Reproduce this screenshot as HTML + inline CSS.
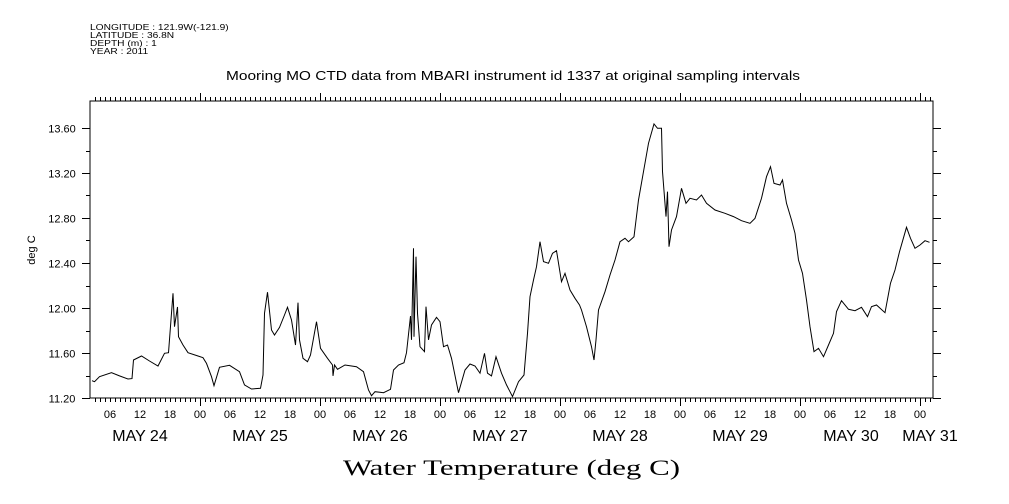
<!DOCTYPE html>
<html><head><meta charset="utf-8"><style>
html,body{margin:0;padding:0;background:#fff;}
svg{display:block;font-family:"Liberation Sans",sans-serif;}
</style></head><body>
<svg id="chart" width="1009" height="504" viewBox="0 0 1009 504" xmlns="http://www.w3.org/2000/svg">
<g font-size="8.5" fill="#000" transform="translate(90 0) scale(1.2 1) translate(-90 0)">
<text x="90" y="30">LONGITUDE : 121.9W(-121.9)</text>
<text x="90" y="38">LATITUDE : 36.8N</text>
<text x="90" y="46">DEPTH (m) : 1</text>
<text x="90" y="54">YEAR : 2011</text>
</g>
<text x="226" y="80" font-size="12.5" textLength="574" lengthAdjust="spacingAndGlyphs">Mooring MO CTD data from MBARI instrument id 1337 at original sampling intervals</text>
<text x="35" y="250" font-size="11" text-anchor="middle" transform="rotate(-90 35 250)">deg C</text>
<text x="343" y="475" font-size="22" textLength="337" lengthAdjust="spacingAndGlyphs" font-family="'Liberation Serif',serif">Water Temperature (deg C)</text>
<rect x="90" y="101" width="843" height="297" fill="none" stroke="#000" stroke-width="1"/>
<g id="axes"></g>
<path id="series" fill="none" stroke="#000" stroke-width="1"/>
</svg>
<script>
const hours = [2.4,2.9,3.9,6.3,7.9,9.6,10.4,10.7,12.3,13.9,15.6,16.9,17.7,18.6,18.9,19.5,19.7,20.6,21.6,23.6,24.6,25.3,26.3,26.8,27.9,29.9,31.9,32.9,34.3,36.1,36.6,36.9,37.5,38.3,38.9,39.9,40.9,41.5,42.3,43.1,43.6,43.9,44.6,45.5,46.1,47.3,48.1,49.5,50.5,50.6,50.9,51.5,53.0,55.3,56.7,57.7,58.3,59.0,60.7,62.1,62.7,63.7,64.8,65.3,66.1,66.3,66.7,66.8,67.2,67.5,68.0,68.9,69.2,69.7,70.3,71.3,72.0,72.7,73.5,74.3,75.7,77.0,78.0,79.0,80.0,80.9,81.5,82.3,83.2,84.3,85.3,86.5,87.7,88.8,89.5,90.0,90.7,91.3,92.0,92.7,93.7,94.5,95.3,96.3,97.0,98.0,99.0,99.9,100.3,101.3,102.3,102.8,103.2,103.7,105.0,106.0,107.0,108.0,109.0,109.7,110.8,111.7,112.7,113.7,114.8,115.5,116.3,116.5,117.2,117.5,117.8,118.3,119.3,120.3,121.2,122.0,123.3,124.3,125.3,127.0,129.0,130.7,132.3,134.0,135.0,136.3,137.3,138.1,138.8,140.0,140.5,141.3,142.3,143.0,143.7,144.5,145.3,146.0,146.8,147.7,148.7,149.7,150.7,151.3,152.3,153.7,155.0,156.3,157.5,158.3,159.3,161.0,162.1,163.0,163.9,165.3,166.1,167.0,168.0,169.0,169.9];
const temps = [11.354,11.345,11.389,11.425,11.396,11.369,11.372,11.538,11.573,11.529,11.484,11.597,11.603,12.131,11.834,12.009,11.745,11.671,11.603,11.573,11.558,11.508,11.389,11.309,11.473,11.491,11.434,11.316,11.28,11.286,11.404,11.953,12.14,11.804,11.76,11.828,11.938,12.006,11.893,11.671,12.047,11.716,11.553,11.523,11.582,11.878,11.642,11.553,11.493,11.396,11.493,11.455,11.493,11.478,11.434,11.271,11.22,11.256,11.247,11.277,11.449,11.493,11.514,11.603,11.929,11.716,12.531,11.745,12.456,11.953,11.656,11.612,12.012,11.716,11.849,11.917,11.878,11.656,11.671,11.553,11.247,11.449,11.502,11.484,11.42,11.597,11.42,11.396,11.567,11.42,11.316,11.212,11.345,11.404,11.775,12.1,12.249,12.367,12.589,12.412,12.397,12.486,12.509,12.234,12.308,12.16,12.086,12.027,11.982,11.834,11.656,11.538,11.716,11.982,12.145,12.293,12.427,12.589,12.62,12.589,12.634,12.96,13.212,13.464,13.636,13.597,13.597,13.212,12.812,13.034,12.545,12.693,12.812,13.064,12.931,12.975,12.96,13.004,12.931,12.871,12.842,12.812,12.776,12.753,12.797,12.975,13.167,13.256,13.108,13.093,13.138,12.931,12.782,12.664,12.427,12.308,12.071,11.834,11.612,11.642,11.567,11.671,11.775,11.967,12.065,11.988,11.976,12.006,11.923,12.012,12.027,11.958,12.22,12.338,12.5,12.717,12.62,12.531,12.56,12.598,12.584];
const yTicks = ["11.20","11.60","12.00","12.40","12.80","13.20","13.60"];
const hourLabels = ["06","12","18","00"];
const dayLabels = ["MAY 24","MAY 25","MAY 26","MAY 27","MAY 28","MAY 29","MAY 30","MAY 31"];

const X0=90,X1=933,Y0=398,Y1=101;
function xs(h){return 80+h*5;}
function ys(v){return 398-(v-11.2)*112.5;}

const NS="http://www.w3.org/2000/svg";
const axes=document.getElementById('axes');
function line(x1,y1,x2,y2,name){
  const l=document.createElementNS(NS,'line');
  l.setAttribute('x1',x1);l.setAttribute('y1',y1);l.setAttribute('x2',x2);l.setAttribute('y2',y2);
  l.setAttribute('stroke','#000');l.setAttribute('stroke-width','1');
  
  
  axes.appendChild(l);
}
function text(x,y,s,size,name){
  const t=document.createElementNS(NS,'text');
  t.setAttribute('x',x);t.setAttribute('y',y);t.setAttribute('font-size',size);
  t.setAttribute('text-anchor','middle');t.textContent=s;
  
  
  axes.appendChild(t);
}
for(let h=3;h<=170;h++){
  const x=xs(h)+0.5;
  const major=(h%24===0);
  line(x,Y0,x,Y0+(major?8:4),'x-tick');
  line(x,Y1,x,Y1-(major?8:4),'x-tick-top');
  if(h%6===0){
    text(xs(h),418,hourLabels[(h/6-1)%4],11,'x-hour-label');
  }
}
for(let d=0;d<dayLabels.length;d++){
  let x=xs(d*24+12);
  if(d===6)x=851;
  if(d===7)x=930;
  text(x,441,dayLabels[d],16,'x-day-label');
}
const yMin=parseFloat(yTicks[0]);
for(let i=0;i<=12;i++){
  const v=yMin+i*0.2;
  const y=Math.round(ys(v))+0.5;
  const major=(i%2===0);
  line(X0-(major?8:4),y,X0,y,'y-tick');
  line(X1,y,X1+(major?8:4),y,'y-tick-right');
  if(major) text(62,y+4,yTicks[i/2],11,'y-tick-label');
}
let d='';
for(let i=0;i<hours.length;i++){
  d+=(i?'L':'M')+xs(hours[i]).toFixed(1)+' '+ys(temps[i]).toFixed(1);
}
document.getElementById('series').setAttribute('d',d);
</script>
</body></html>
